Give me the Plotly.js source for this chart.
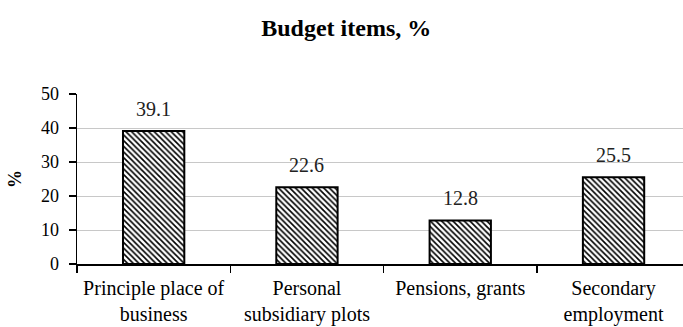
<!DOCTYPE html>
<html>
<head>
<meta charset="utf-8">
<script src="https://cdn.plot.ly/plotly-3.0.1.min.js"></script>
<style>
html,body{margin:0;padding:0;background:#fff;}
#chart{width:683px;height:327px;}
</style>
</head>
<body>
<div id="chart"></div>
<script>
const categories = ["Principle place of<br>business", "Personal<br>subsidiary plots", "Pensions, grants", "Secondary<br>employment"];
const values = [39.1, 22.6, 12.8, 25.5];
const valueLabels = ["39.1", "22.6", "12.8", "25.5"];
const yTicks = [0, 10, 20, 30, 40, 50];

const font = "Liberation Serif";

const trace = {
  type: "bar",
  x: categories,
  y: values,
  width: 0.4,
  marker: {
    color: "#ffffff",
    line: {color: "#000000", width: 2},
    pattern: {shape: "\\", fgcolor: "#000000", bgcolor: "#ffffff", size: 4, solidity: 0.4}
  },
  hoverinfo: "none"
};

const annotations = categories.map((c, i) => ({
  x: c, y: values[i], xref: "x", yref: "y",
  text: valueLabels[i], showarrow: false,
  yanchor: "bottom", yshift: 9,
  font: {family: font, size: 20, color: "#222"}
}));

const layout = {
  width: 683, height: 327,
  margin: {l: 77, r: 0, t: 94, b: 63},
  paper_bgcolor: "#fff", plot_bgcolor: "#fff",
  showlegend: false,
  font: {family: font},
  title: {text: "<b>Budget items, %</b>", font: {family: font, size: 24, color: "#000"}, x: 0.507, xanchor: "center", y: 0.915, yanchor: "middle"},
  xaxis: {
    type: "category",
    range: [-0.5, 3.453],
    tickson: "boundaries",
    ticks: "outside", ticklen: 7, tickwidth: 1.5, tickcolor: "#000",
    ticklabelstandoff: 5,
    showline: true, linecolor: "#000", linewidth: 1.5,
    showgrid: false, zeroline: false,
    tickfont: {family: font, size: 20, color: "#000"}
  },
  yaxis: {
    range: [0, 50],
    tickvals: yTicks,
    ticks: "outside", ticklen: 7, tickwidth: 1.5, tickcolor: "#000",
    ticklabelstandoff: 6,
    showline: true, linecolor: "#000", linewidth: 1.5,
    showgrid: true, gridcolor: "#c8c8c8", gridwidth: 1,
    zeroline: false,
    tickfont: {family: font, size: 18, color: "#000"},
    title: {text: "<b>%</b>", font: {family: font, size: 18, color: "#000"}, standoff: 14}
  },
  annotations: annotations
};

Plotly.newPlot("chart", [trace], layout, {displayModeBar: false, staticPlot: true});
if (document.fonts && document.fonts.ready) {
  document.fonts.ready.then(() => Plotly.react("chart", [trace], layout, {displayModeBar: false, staticPlot: true}));
}
</script>
</body>
</html>
